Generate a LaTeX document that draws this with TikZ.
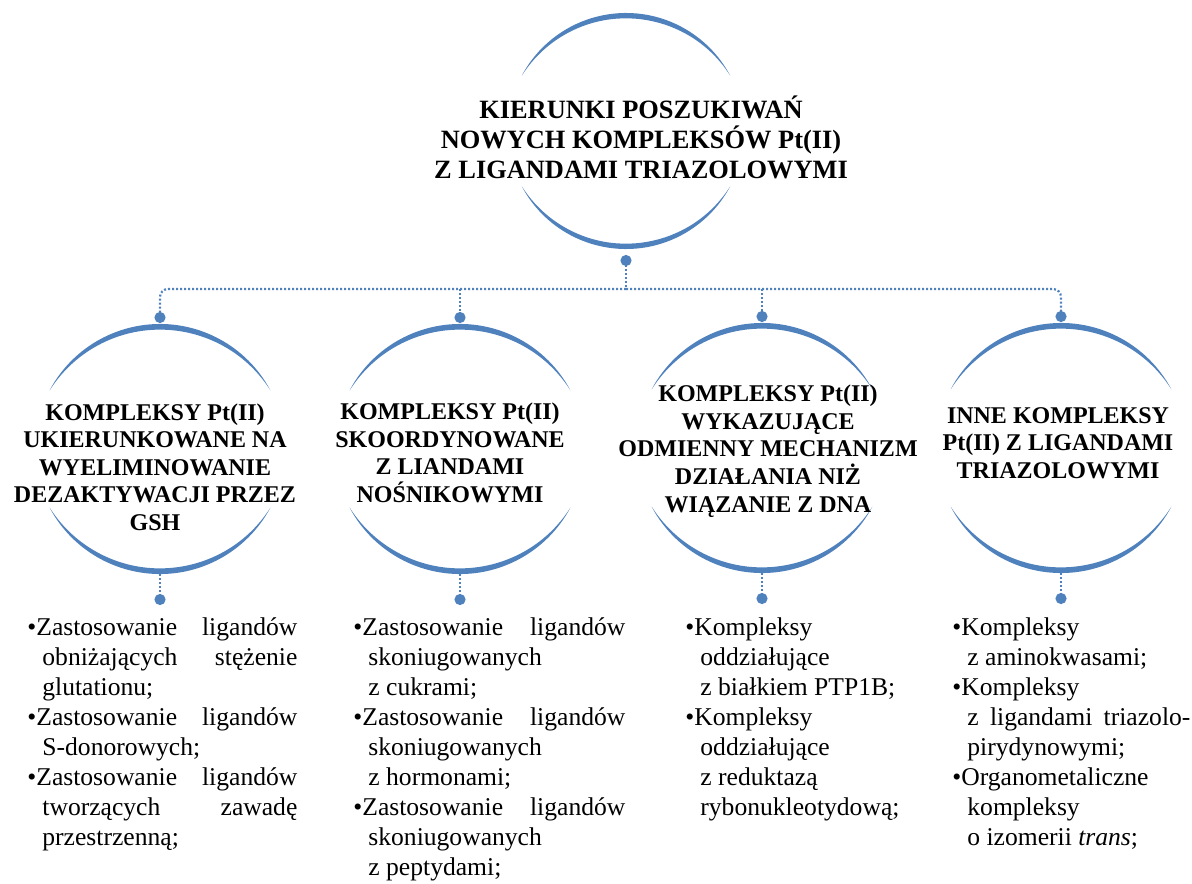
\documentclass[tikz,border=0pt]{standalone}
\usepackage{fontspec}
\setmainfont{Liberation Serif}
\usetikzlibrary{calc,arrows.meta}
\definecolor{ringblue}{RGB}{79,129,189}
\newcommand{\pkt}{\par\noindent\hangindent=7.5pt\hangafter=1\strut\textbullet}

\begin{document}
\begin{tikzpicture}[x=0.5pt, y=0.5pt,
    ring/.style={circle, inner sep=0pt, outer sep=0pt, minimum size=#1},
    maintitle/.style={align=center, font=\bfseries\fontsize{13.2}{15}\selectfont},
    title/.style={align=center, font=\bfseries\fontsize{12}{13.8}\selectfont},
    items/.style={anchor=north west, inner sep=0pt, text width=#1, align=justify,
        font=\fontsize{12.8}{15}\selectfont,
        execute at begin node={\hyphenpenalty=10000\exhyphenpenalty=10000}},
    link/.style={draw=ringblue, line width=1.1pt, dash pattern=on 1pt off 1pt},
    bead/.tip={Circle[length=5.5pt]},
    ]
  \useasboundingbox (0,0) rectangle (1192,-883);

  \node[ring=118pt] (main) at (626,-131) {};
  \node[ring=125pt] (k1) at (160,-449) {};
  \node[ring=125pt] (k2) at (460,-449) {};
  \node[ring=125pt] (k3) at (762,-448) {};
  \node[ring=125pt] (k4) at (1061,-448) {};

  \foreach \k in {main,k1,k2,k3,k4}{
    \path let \p1 = ($(\k.north)-(\k.center)$) in [fill=ringblue]
      ($(\k.center)+(152:\y1)$) arc[start angle=152, end angle=28, radius=\y1]
        arc[start angle=32.4, end angle=147.6, radius=1.0456*\y1]
      ($(\k.center)+(208:\y1)$) arc[start angle=208, end angle=332, radius=\y1]
        arc[start angle=327.6, end angle=212.4, radius=1.0456*\y1];
  }

  \node[maintitle] (t0) at (641,-137) {KIERUNKI POSZUKIWAŃ\\NOWYCH KOMPLEKSÓW Pt(II)\\Z LIGANDAMI TRIAZOLOWYMI};
  \node[title] (t1) at (155,-467) {KOMPLEKSY Pt(II)\\UKIERUNKOWANE NA\\WYELIMINOWANIE\\DEZAKTYWACJI PRZEZ\\GSH};
  \node[title] (t2) at (450,-453) {KOMPLEKSY Pt(II)\\SKOORDYNOWANE\\Z LIANDAMI\\NOŚNIKOWYMI};
  \node[title] (t3) at (768,-451) {KOMPLEKSY Pt(II)\\WYKAZUJĄCE\\ODMIENNY MECHANIZM\\DZIAŁANIA NIŻ\\WIĄZANIE Z DNA};
  \node[title] (t4) at (1058,-443) {INNE KOMPLEKSY\\Pt(II) Z LIGANDAMI\\TRIAZOLOWYMI};

  \coordinate (bar) at ($(main.south)+(0,-40)$);
  \draw[link, {bead}-] ($(main.south)+(0,-6)$) -- (bar);
  \draw[link, -{bead}, rounded corners=4pt] (bar) -| ($(k1.north)+(0,1)$);
  \draw[link, -{bead}, rounded corners=4pt] (bar) -| ($(k4.north)+(0,1)$);
  \draw[link, -{bead}] (bar -| k2.north) -- ($(k2.north)+(0,1)$);
  \draw[link, -{bead}] (bar -| k3.north) -- ($(k3.north)+(0,1)$);
  \foreach \k in {k1,k2,k3,k4}
    \draw[link, -{bead}] (\k.south) -- ++(0,-31);

  \node[items=135pt] (l1) at (27,-605) {%
    \pkt Zastosowanie~ligandów\linebreak obniżających~stężenie\linebreak glutationu;
    \pkt Zastosowanie~ligandów\linebreak S-donorowych;
    \pkt Zastosowanie~ligandów\linebreak tworzących~zawadę\linebreak przestrzenną;\par};
  \node[items=136pt] (l2) at (353,-605) {%
    \pkt Zastosowanie~ligandów\linebreak skoniugowanych\newline z~cukrami;
    \pkt Zastosowanie~ligandów\linebreak skoniugowanych\newline z~hormonami;
    \pkt Zastosowanie~ligandów\linebreak skoniugowanych\newline z~peptydami;\par};
  \node[items=135pt] (l3) at (685,-605) {%
    \pkt Kompleksy\newline oddziałujące\newline z~białkiem~PTP1B;
    \pkt Kompleksy\newline oddziałujące\newline z~reduktazą\newline rybonukleotydową;\par};
  \node[items=119pt] (l4) at (952,-605) {%
    \pkt Kompleksy\newline z~aminokwasami;
    \pkt Kompleksy\newline z~ligandami~triazolo-\linebreak pirydynowymi;
    \pkt Organometaliczne\newline kompleksy\newline o~izomerii \textit{trans};\par};
\end{tikzpicture}
\end{document}
